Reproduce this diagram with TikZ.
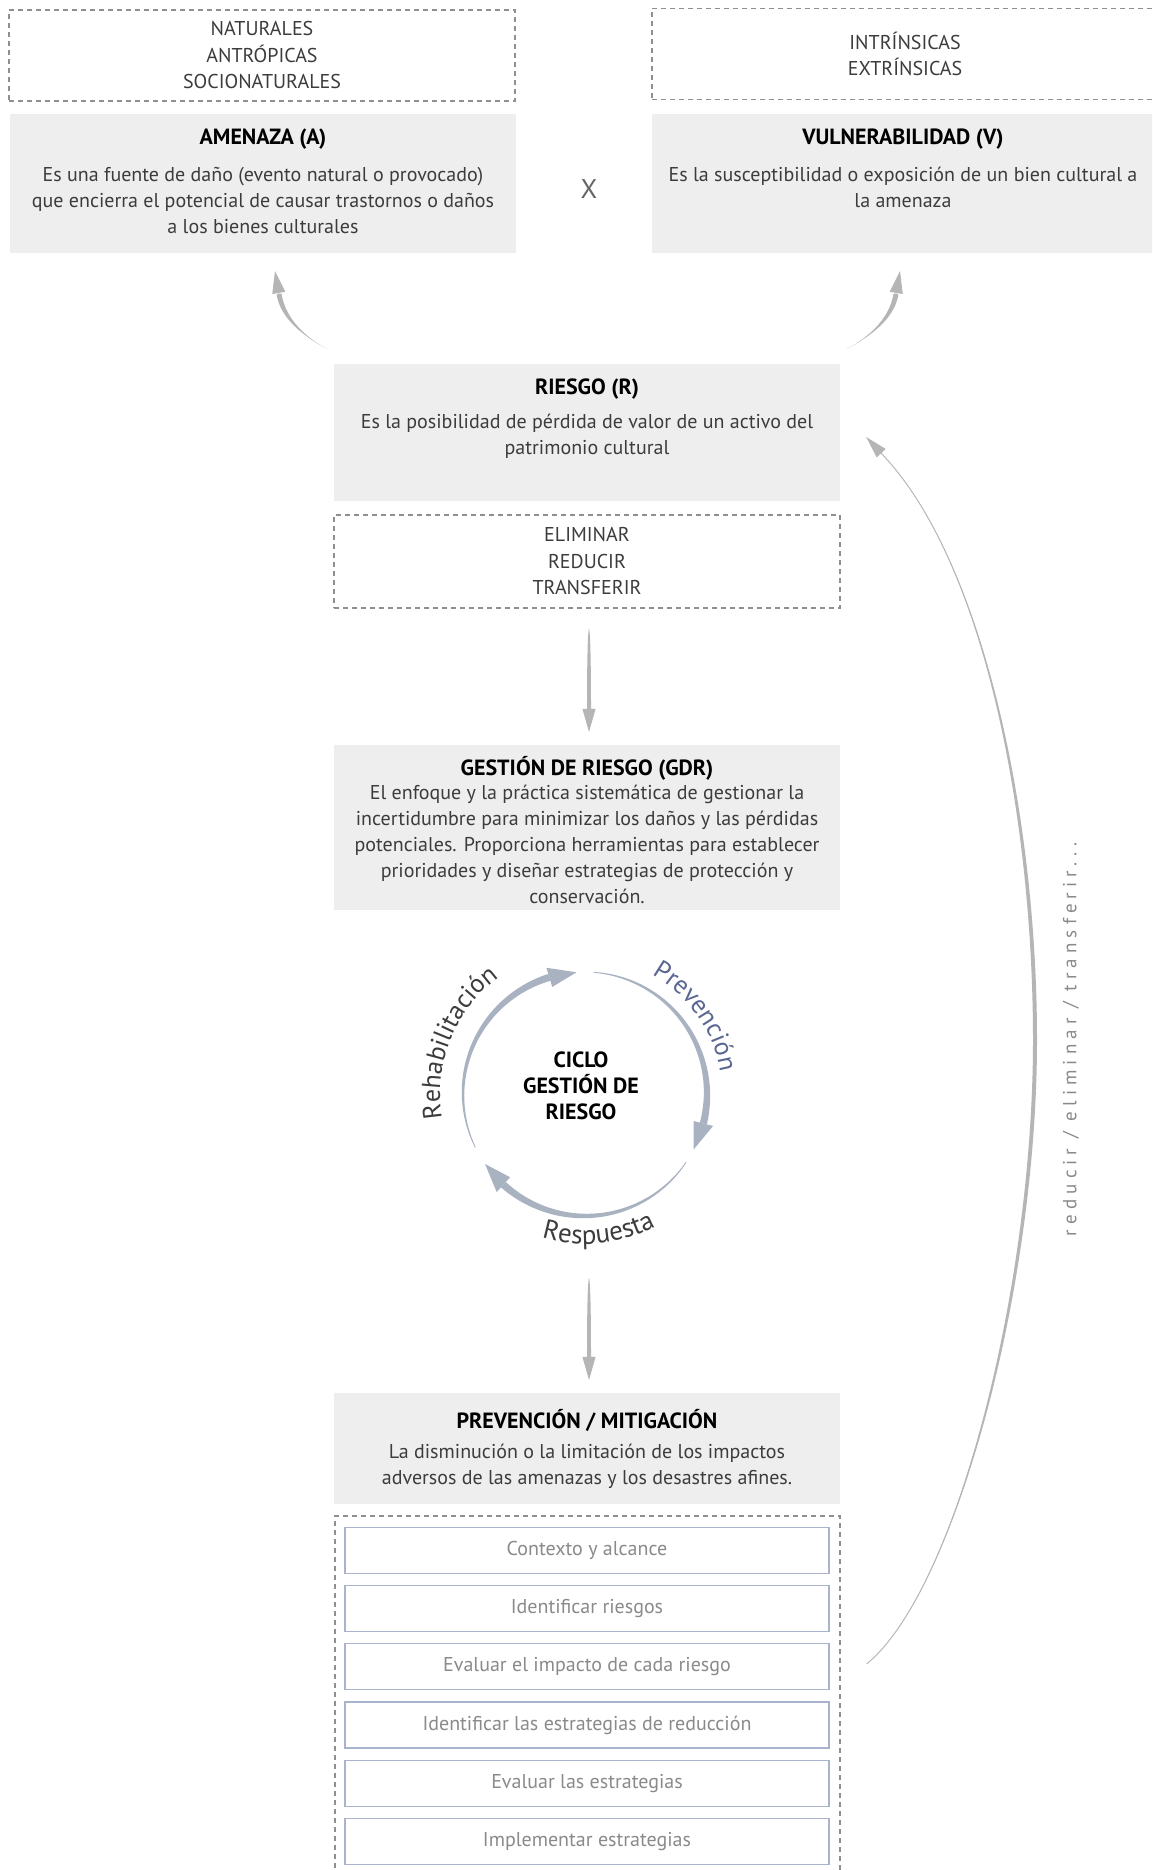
\documentclass[tikz,border=0pt]{standalone}
\usepackage{fontspec}
\setmainfont{PT Sans}
\usetikzlibrary{arrows.meta,calc,decorations.text,positioning}

\definecolor{cajagris}{HTML}{EEEEEE}
\definecolor{trazo}{HTML}{8F8F8F}
\definecolor{texto}{HTML}{3C3C3C}
\definecolor{flecha}{HTML}{B5B5B5}
\definecolor{ciclo}{HTML}{A9B2C1}
\definecolor{azul}{HTML}{5A6792}
\definecolor{paso}{HTML}{A9B3CE}
\definecolor{textopaso}{HTML}{8A8A8A}

\tikzset{
  caja/.style={fill=cajagris, minimum width=506pt, inner sep=0pt},
  rayada/.style={draw=trazo, line width=1.1pt, dash pattern=on 5pt off 4pt,
    minimum width=506pt, inner sep=0pt, align=center,
    font=\fontsize{20}{26.5}\selectfont, text=texto},
  titulo/.style={font=\fontsize{22}{26}\selectfont\bfseries, text=black},
  cuerpo/.style={font=\fontsize{20}{26}\selectfont, text=texto, align=center},
  pasobox/.style={draw=paso, line width=1.2pt, minimum width=484pt,
    minimum height=46pt, inner sep=0pt, font=\fontsize{20}{24}\selectfont, text=textopaso},
  punta/.style={draw=flecha, line width=0.8pt, -{Triangle[length=23pt,width=13pt]}},
  puntachica/.style={draw=flecha, line width=0.8pt, -{Triangle[length=22pt,width=13pt]}},
}

% flecha gris que se ensancha hacia el final
\newcommand{\ahusado}[5]{%
  \fill[flecha] (#1) .. controls (#2) and ($(#3)!#5!-90:(#4)$) .. ($(#4)!#5!90:(#3)$)
    -- ($(#4)!#5!-90:(#3)$) .. controls ($(#3)!#5!90:(#4)$) and (#2) .. (#1) -- cycle;}

% flecha del ciclo: angulo inicial, angulo de la punta
\newcommand{\flechaciclo}[2]{%
  \pgfmathsetmacro{\fcb}{#2+13}%
  \fill[ciclo] plot[domain=#1:\fcb, samples=40] (\x:{122+0.4+3.2*((#1)-(\x))/((#1)-(\fcb))})
    -- plot[domain=\fcb:#1, samples=40] (\x:{122-0.4-3.2*((#1)-(\x))/((#1)-(\fcb))}) -- cycle;
  \fill[ciclo] (\fcb:132) -- (#2:122) -- (\fcb:112) -- cycle;}

\begin{document}
\begin{tikzpicture}[x=1pt,y=1pt]
    \useasboundingbox (0,0) rectangle (1152,-1870);
    \fill[white] (0,0) rectangle (1152,-1870);
    \clip (0,0) rectangle (1152,-1870);

    % amenaza x vulnerabilidad
    \node[rayada, minimum height=91pt] (origen) at (262,-55.5) {NATURALES\\ANTRÓPICAS\\SOCIONATURALES};
    \node[rayada, minimum height=91pt] (factores) at (905,-54) {INTRÍNSICAS\\EXTRÍNSICAS};
    \node[caja, minimum height=139pt] (amenaza) at (263,-183.5) {};
    \node[caja, minimum height=139pt] (vulner) at (905,-183.5) {};
    \node[titulo] (amenazaT) at (263,-139) {AMENAZA (A)};
    \node[cuerpo] (amenazaD) at (263,-200) {Es una fuente de daño (evento natural o provocado)\\que encierra el potencial de causar trastornos o daños\\a los bienes culturales};
    \node[titulo] (vulnerT) at (903,-139) {VULNERABILIDAD (V)};
    \node[cuerpo] (vulnerD) at (903,-187) {Es la susceptibilidad o exposición de un bien cultural a\\la amenaza};
    \node[font=\fontsize{27}{27}\selectfont, text=black!60] (por) at (589,-189) {X};

    % riesgo
    \node[caja, minimum height=137pt] (riesgo) at (587,-432.5) {};
    \node[titulo] (riesgoT) at (587,-389) {RIESGO (R)};
    \node[cuerpo] (riesgoD) at (587,-436.5) {Es la posibilidad de pérdida de valor de un activo del\\patrimonio cultural};
    \node[rayada, minimum height=93pt] (elimina) at (587,-561.5) {ELIMINAR\\REDUCIR\\TRANSFERIR};

    % gestion de riesgo
    \node[caja, minimum height=165pt] (gdr) at (587,-827.5) {};
    \node[titulo] (gdrT) at (587,-768) {GESTIÓN DE RIESGO (GDR)};
    \node[cuerpo] (gdrD) at (587,-844) {El enfoque y la práctica sistemática de gestionar la\\incertidumbre para minimizar los daños y las pérdidas\\potenciales. Proporciona herramientas para establecer\\prioridades y diseñar estrategias de protección y\\conservación.};

    % ciclo
    \node[titulo, align=center, inner sep=0pt] (ciclo) at (581,-1086) {CICLO\\GESTIÓN DE\\RIESGO};
    \begin{scope}[shift={(585,-1094)}]
        \flechaciclo{86}{-27}
        \flechaciclo{-34}{-145}
        \flechaciclo{206}{94}
        \path[decorate, decoration={text along path, text align=center,
            text={|\fontsize{26}{26}\selectfont\color{azul}|Prevención}}]
            (95:137) arc[start angle=95, end angle=-25, radius=137];
        \path[decorate, decoration={text along path, text align=center,
            text={|\fontsize{26}{26}\selectfont\color{texto}|Rehabilitación}}]
            (218:145) arc[start angle=218, end angle=98, radius=145];
        \path[decorate, decoration={text along path, text align=center,
            text={|\fontsize{27}{27}\selectfont\color{texto}|Respuesta}}]
            (215.7:150) arc[start angle=215.7, end angle=335.7, radius=150];
    \end{scope}

    % prevencion / mitigacion
    \node[caja, minimum height=111pt] (prevencion) at (587,-1448.5) {};
    \node[titulo] (prevencionT) at (587,-1420) {PREVENCIÓN / MITIGACIÓN};
    \node[cuerpo] (prevencionD) at (587,-1466) {La disminución o la limitación de los impactos\\adversos de las amenazas y los desastres afines.};
    \node[rayada, minimum width=505pt, minimum height=380pt] (pasos) at (587.5,-1706) {};
    \foreach \t [count=\i from 0] in {Contexto y alcance, Identificar riesgos,
        Evaluar el impacto de cada riesgo, Identificar las estrategias de reducción,
        Evaluar las estrategias, Implementar estrategias}
        \node[pasobox] (paso\i) at (587,{-1550.3-58.2*\i}) {\t};

    \node[rotate=90, font=\fontsize{19}{19}\selectfont\addfontfeatures{LetterSpace=27}, text=textopaso] (accion) at (1071,-1039) {reducir / eliminar / transferir...};

    % flechas
    \coordinate (ta) at ($(riesgo.north west)+(-7,15)$);
    \coordinate (pa) at ($(amenaza.south)+(12,-18)$);
    \coordinate (ba) at (279,-294);
    \coordinate (tv) at ($(riesgo.north east)+(7,15)$);
    \coordinate (pv) at ($(vulner.south)+(-5,-18)$);
    \coordinate (bv) at (896,-294);
    \ahusado{ta}{305,-337}{283,-319}{ba}{2.5pt}
    \draw[puntachica] (ba) -- (pa);
    \ahusado{tv}{869,-337}{892,-319}{bv}{2.5pt}
    \draw[puntachica] (bv) -- (pv);

    \coordinate (f1a) at ($(elimina.south)+(2,-20)$);
    \coordinate (f1) at ($(gdr.north)+(2,13)$);
    \coordinate (f1b) at ($(f1)+(0,23)$);
    \ahusado{f1a}{f1a}{f1a}{f1b}{2pt}
    \draw[punta] (f1b) -- (f1);

    \coordinate (f2a) at (589,-1278);
    \coordinate (f2) at ($(prevencion.north)+(2,13)$);
    \coordinate (f2b) at ($(f2)+(0,23)$);
    \ahusado{f2a}{f2a}{f2a}{f2b}{2pt}
    \draw[punta] (f2b) -- (f2);

    \coordinate (bucleIni) at ($(pasos.east)+(26,42)$);
    \coordinate (bucleMed) at (1035,-1040);
    \coordinate (bucleB) at (881,-453);
    \coordinate (bucleFin) at ($(riesgo.east)+(26,-4.5)$);
    \ahusado{bucleIni}{955,-1592}{1035,-1290}{bucleMed}{2pt}
    \ahusado{bucleB}{985,-561}{1035,-820}{bucleMed}{2pt}
    \draw[flecha, line width=0.9pt] (bucleIni) .. controls (955,-1592) and (1035,-1290) .. (bucleMed)
        .. controls (1035,-820) and (985,-561) .. (bucleB);
    \draw[puntachica, -{Triangle[length=22pt,width=12pt]}] (bucleB) -- (bucleFin);
\end{tikzpicture}
\end{document}
